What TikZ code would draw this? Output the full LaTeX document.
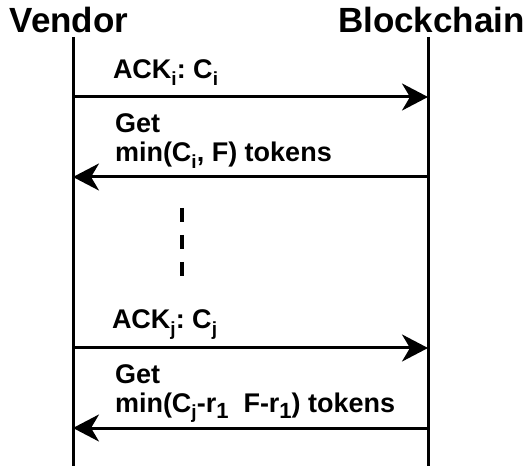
\documentclass[tikz,border=0pt]{standalone}
\usepackage{fontspec}
\setmainfont{Liberation Sans}
\usetikzlibrary{arrows.meta}
\frenchspacing

% lowered subscript, larger than \textsubscript
\newcommand\lsub[2][19]{\raisebox{-7pt}{\fontsize{#1}{#1}\selectfont #2}}

\begin{document}
\begin{tikzpicture}[x=1pt, y=1pt,
    every node/.style={inner sep=0pt, outer sep=0pt},
    hdr/.style ={font=\fontsize{35}{40}\selectfont\bfseries, anchor=base},
    msg/.style ={font=\fontsize{27}{29}\selectfont\bfseries, anchor=base west},
    life/.style={draw=black, line width=3pt},
    ar/.style  ={-{Stealth[length=26pt,width=27pt,inset=8pt]}, draw=black, line width=3pt},
    gap/.style ={draw=black, line width=4pt, dash pattern=on 14pt off 13pt}]

\useasboundingbox (0,0) rectangle (531,-468);

\def\VX{73}  \def\BX{428}   % lifeline positions
\def\LX{115}                % left edge of message labels

% ── participants ───────────────────────────────────────────────────────
\node[hdr] (vendor) at (69,-33)    {Vendor};
\node[hdr] (chain)  at (431.5,-33) {Blockchain};

\coordinate (vtop) at (\VX,-37);  \coordinate (vbot) at (\VX,-466);
\coordinate (btop) at (\BX,-37);  \coordinate (bbot) at (\BX,-466);
\draw[life] (vtop) -- (vbot);
\draw[life] (btop) -- (bbot);

% ── messages ───────────────────────────────────────────────────────────
\coordinate (v1) at (\VX,-97);   \coordinate (b1) at (\BX,-97);
\coordinate (v2) at (\VX,-177);  \coordinate (b2) at (\BX,-177);
\coordinate (v3) at (\VX,-348);  \coordinate (b3) at (\BX,-348);
\coordinate (v4) at (\VX,-428);  \coordinate (b4) at (\BX,-428);

\node[msg] (ack1) at (113,-79)  {ACK\lsub{i}: C\lsub{i}};
\node[msg] (get1) at (\LX,-133)
  {\begin{tabular}[t]{@{}l@{}}Get\\min(C\lsub{i}, F) tokens\end{tabular}};
\node[msg] (ack2) at (112,-328) {ACK\lsub{j}: C\lsub{j}};
\node[msg] (get2) at (\LX,-383)
  {\begin{tabular}[t]{@{}l@{}}Get\\min(C\lsub{j}-r\lsub[22]{1}\ \ F-r\lsub[22]{1}) tokens\end{tabular}};

\draw[ar] (v1) -- (b1);
\draw[ar] (b2) -- (v2);
\draw[ar] (v3) -- (b3);
\draw[ar] (b4) -- (v4);

% ── elided rounds ──────────────────────────────────────────────────────
\coordinate (dA) at (182,-208);  \coordinate (dB) at (182,-276);
\draw[gap] (dA) -- (dB);
\end{tikzpicture}
\end{document}
